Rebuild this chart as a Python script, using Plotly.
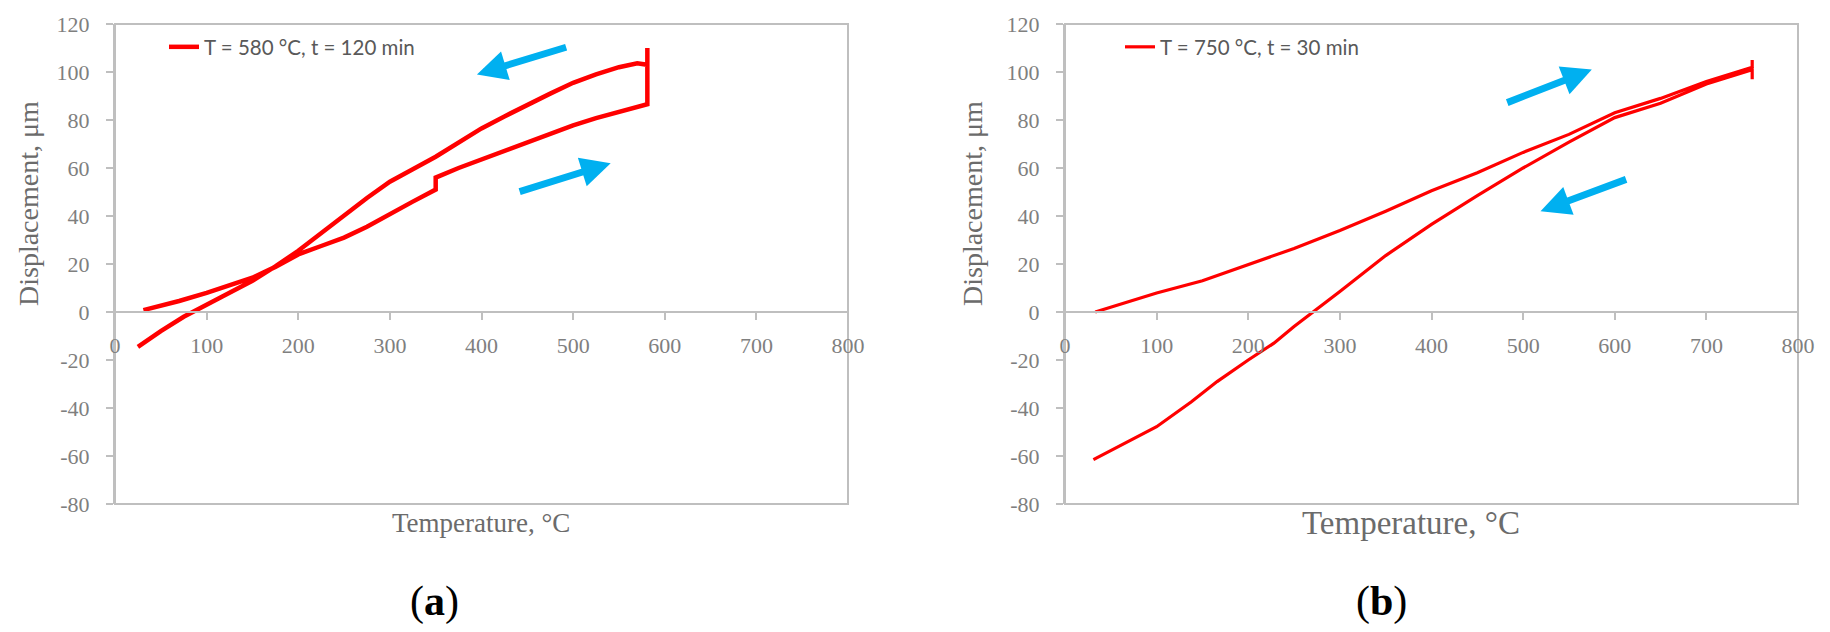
import plotly.graph_objects as go

# ---------------- data ----------------
# (a) T = 580 °C, t = 120 min
heat_a_T = [31, 50, 70, 100, 125, 150, 175, 200, 225, 250, 275, 300, 325, 350, 350, 375, 400, 425, 450, 475, 500, 525, 550, 570, 581, 581]
heat_a_D = [0.8, 2.5, 4.6, 8.0, 11.0, 14.3, 18.8, 24.0, 27.5, 31.0, 35.5, 41.0, 46.0, 51.0, 56.0, 60.0, 63.6, 67.5, 71.0, 74.5, 77.8, 80.8, 83.4, 85.5, 86.6, 110.0]
cool_a_T = [581, 570, 550, 525, 500, 475, 450, 425, 400, 375, 350, 325, 300, 275, 250, 225, 200, 175, 150, 125, 100, 75, 50, 25]
cool_a_D = [103.0, 103.6, 102.0, 99.0, 95.5, 91.0, 86.5, 81.5, 76.5, 70.7, 64.7, 59.5, 54.3, 47.5, 40.0, 33.0, 25.5, 19.0, 13.0, 8.0, 3.0, -2.0, -8.0, -14.5]

# (b) T = 750 °C, t = 30 min
heat_b_T = [33, 50, 75, 100, 150, 200, 250, 300, 350, 400, 450, 500, 550, 600, 650, 700, 750, 750, 750]
heat_b_D = [0.0, 2.0, 4.8, 7.9, 13.0, 19.6, 26.5, 34.0, 42.0, 50.5, 58.0, 66.5, 74.0, 83.0, 89.0, 96.0, 102.0, 105.0, 97.0]
cool_b_T = [750, 700, 650, 600, 550, 500, 450, 400, 350, 300, 270, 250, 228, 200, 166, 138, 100, 72, 31]
cool_b_D = [101.0, 95.0, 87.0, 81.0, 70.8, 60.0, 48.5, 36.5, 23.5, 8.5, 0.0, -6.0, -13.0, -20.0, -29.0, -37.4, -47.8, -53.4, -61.5]

legend_a = "T = 580 °C, t = 120 min"
legend_b = "T = 750 °C, t = 30 min"
x_ticks = [0, 100, 200, 300, 400, 500, 600, 700, 800]
y_ticks = [-80, -60, -40, -20, 0, 20, 40, 60, 80, 100, 120]
x_title = "Temperature, °C"
y_title = "Displacement, μm"

# ---------------- figure ----------------
OFF = 8  # page body margin
W, H = 1830 - OFF, 632 - OFF
RED = "#ff0000"
BLUE = "#00b0f0"
GRID = "#bfbfbf"
TICKC = "#7f7f7f"
TITLEC = "#6b6b6b"
SERIF = "Liberation Serif, Times New Roman, serif"
SANS = "Lato, Open Sans, sans-serif"

def px_x(p):
    return (p - OFF) / W

def px_y(p):
    return 1 - (p - OFF) / H

fig = go.Figure()
fig.add_trace(go.Scatter(x=heat_a_T + cool_a_T, y=heat_a_D + cool_a_D, mode="lines",
                         line=dict(color=RED, width=4.5), name=legend_a,
                         xaxis="x", yaxis="y", legend="legend"))
fig.add_trace(go.Scatter(x=heat_b_T + cool_b_T, y=heat_b_D + cool_b_D, mode="lines",
                         line=dict(color=RED, width=3.2), name=legend_b,
                         xaxis="x2", yaxis="y2", legend="legend2"))

ydom = [px_y(504), px_y(24)]
zero_pos = px_y(312)

xcommon = dict(range=[0, 800], tickvals=x_ticks, ticktext=[str(v) for v in x_ticks],
               showgrid=False, zeroline=False, automargin=False,
               showline=True, linecolor=GRID, linewidth=2, ticks="outside", ticklen=7,
               tickwidth=2, tickcolor=GRID, anchor="free", position=zero_pos,
               tickfont=dict(family=SERIF, size=22, color=TICKC), ticklabelstandoff=7)
ycommon = dict(range=[-80, 120], tickvals=y_ticks, ticktext=[str(v) for v in y_ticks],
               showgrid=False, zeroline=False, automargin=False,
               showline=True, linecolor=GRID, linewidth=2, ticks="outside", ticklen=7,
               tickwidth=2, tickcolor=GRID, domain=ydom,
               tickfont=dict(family=SERIF, size=22, color=TICKC), ticklabelstandoff=12)

fig.update_layout(
    width=W, height=H, margin=dict(l=0, r=0, t=0, b=0, autoexpand=False),
    paper_bgcolor="white", plot_bgcolor="white",
    xaxis=dict(domain=[px_x(115), px_x(848)], **xcommon),
    yaxis=dict(anchor="x", **ycommon),
    xaxis2=dict(domain=[px_x(1065), px_x(1798)], **xcommon),
    yaxis2=dict(anchor="x2", **ycommon),
    legend=dict(x=px_x(164), y=px_y(47), xanchor="left", yanchor="middle",
                font=dict(family=SANS, size=20.5, color="#595959"),
                bgcolor="rgba(0,0,0,0)", borderwidth=0),
    legend2=dict(x=px_x(1120), y=px_y(47), xanchor="left", yanchor="middle",
                 font=dict(family=SANS, size=20.5, color="#595959"),
                 bgcolor="rgba(0,0,0,0)", borderwidth=0),
    showlegend=True,
)

# plot-area borders
for xr, yr in (("x domain", "y domain"), ("x2 domain", "y2 domain")):
    fig.add_shape(type="rect", xref=xr, yref=yr, x0=0, x1=1, y0=0, y1=1,
                  line=dict(color=GRID, width=2), layer="below")

# axis titles
anns = [
    dict(text=y_title, x=px_x(28), y=px_y(204), textangle=-90, size=28),
    dict(text=y_title, x=px_x(972), y=px_y(204), textangle=-90, size=28),
    dict(text=x_title, x=px_x(481), y=px_y(523), textangle=0, size=27),
    dict(text=x_title, x=px_x(1411), y=px_y(523), textangle=0, size=33),
]
for a in anns:
    fig.add_annotation(text=a["text"], x=a["x"], y=a["y"], xref="paper", yref="paper",
                       showarrow=False, textangle=a["textangle"], xanchor="center", yanchor="middle",
                       font=dict(family=SERIF, size=a["size"], color=TITLEC))

# panel captions
fig.add_annotation(text="(<b>a</b>)", x=px_x(434), y=px_y(601), xref="paper", yref="paper",
                   showarrow=False, xanchor="center", yanchor="middle",
                   font=dict(family=SERIF, size=42, color="black"))
fig.add_annotation(text="(<b>b</b>)", x=px_x(1381), y=px_y(601), xref="paper", yref="paper",
                   showarrow=False, xanchor="center", yanchor="middle",
                   font=dict(family=SERIF, size=42, color="black"))

# direction arrows (head, tail) in data coordinates
arrows = [
    ("x", "y", (395, 99), (494, 110.5)),
    ("x", "y", (541, 62), (440, 50)),
    ("x2", "y2", (575, 101), (481, 87)),
    ("x2", "y2", (519, 42), (614, 55.5)),
]
for xr, yr, head, tail in arrows:
    fig.add_annotation(x=head[0], y=head[1], ax=tail[0], ay=tail[1], xref=xr, yref=yr,
                       axref=xr, ayref=yr, text="", showarrow=True, arrowhead=2,
                       arrowsize=0.85, arrowwidth=7, arrowcolor=BLUE)

fig.write_html("out.html")
